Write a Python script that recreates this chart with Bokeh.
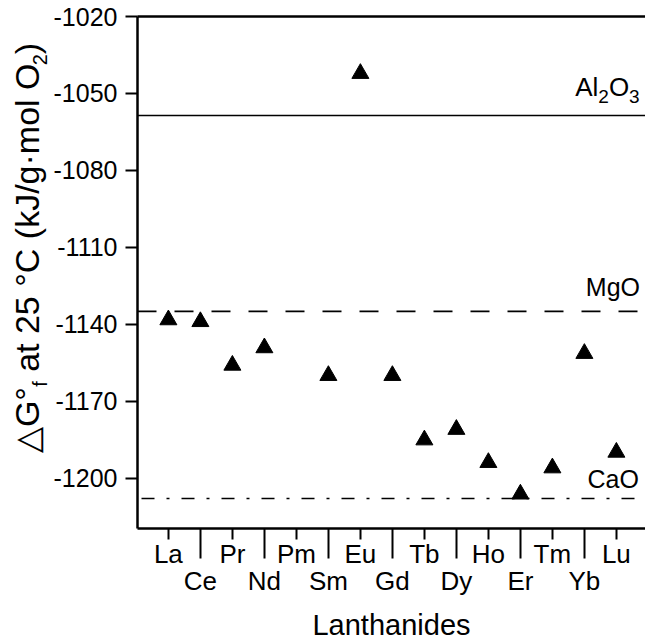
import math
from bokeh.plotting import figure
from bokeh.layouts import row
from bokeh.models import Range1d, LinearAxis, FixedTicker, Span, Label
from bokeh.embed import file_html
from bokeh.resources import INLINE

# ---------------- data ----------------
elements = ["La", "Ce", "Pr", "Nd", "Pm", "Sm", "Eu", "Gd", "Tb", "Dy", "Ho", "Er", "Tm", "Yb", "Lu"]
dG = [-1138.2, -1138.9, -1155.9, -1149.1, None, -1159.9, -1042.2, -1159.9,
      -1185.0, -1180.9, -1193.8, -1206.1, -1195.9, -1151.3, -1189.8]
ref_oxides = ["Al2O3", "MgO", "CaO"]
ref_values = [-1058.6, -1134.9, -1207.8]
y_ticks = [-1020, -1050, -1080, -1110, -1140, -1170, -1200]

# ---------------- styles ----------------
ref_dash = ["solid", "19 18", "13 12 3 12"]
ref_dash_offset = [0, 0, 36]
FONT = "Liberation Sans"
LEFT_W = 50
TOP, BOTTOM = 16, 116          # frame borders shared by both panels
BASE_FIX = 0.4                 # renderer anchor correction (em)

# Arial / Liberation Sans advance widths (em)
W = {'A': .667, 'l': .222, 'O': .778, 'M': .833, 'g': .556, 'C': .722, 'a': .556,
     '2': .556, '3': .556, 'G': .778, '°': .4, 'f': .278, ' ': .278, 't': .278,
     '5': .556, '(': .333, 'k': .5, 'J': .5, '/': .278, '·': .278, 'm': .833,
     'o': .556, ')': .333, '△': .77}


def text_width(txt, fs):
    return sum(W.get(c, 0.556) for c in txt) * fs


def rich(p, pieces, sx, sy, size, sub_size, sub_shift, angle=0.0):
    """sx, sy: frame-relative screen position of the main baseline start."""
    pos = 0.0
    for txt, sub in pieces:
        fs = sub_size if sub else size
        lead = len(txt) - len(txt.lstrip(' '))
        pos += lead * W[' '] * fs
        t = txt.lstrip(' ')
        shift = sub_shift if sub else 0
        fix = BASE_FIX * fs
        if angle == 0:
            x, y = sx + pos, sy - shift + fix
        else:
            x, y = sx + shift - fix, sy + pos
        p.add_layout(Label(x=x, y=y, x_units="screen", y_units="screen", text=t,
                           angle=angle, text_font=FONT, text_font_size=f"{fs}px",
                           text_align="left", text_baseline="alphabetic",
                           text_color="black"))
        pos += text_width(t, fs)
    return pos


# ---------- left strip carrying the rotated y-axis title ----------
pl = figure(width=LEFT_W, height=644, x_range=Range1d(0, LEFT_W), y_range=Range1d(0, 1),
            x_axis_type=None, y_axis_type=None, output_backend="svg", toolbar_location=None,
            min_border_left=0, min_border_right=0, min_border_top=TOP, min_border_bottom=BOTTOM)
pl.outline_line_color = None
pl.background_fill_color = "white"
pl.border_fill_color = "white"

S, SS = 34, 20
ylab = [("△G°", False), ("f", True), (" at 25 °C (kJ/g·mol O", False), ("2", True), (")", False)]
total = sum(text_width(t, SS if sub else S) for t, sub in ylab)
frame_bottom = 644 - BOTTOM
start = (frame_bottom - 247.5) - total / 2
rich(pl, ylab, 40.5, start, S, SS, 7, angle=math.pi / 2)

# ---------- main plot ----------
p = figure(width=645 - LEFT_W, height=644,
           x_range=Range1d(0.035, 15.91), y_range=Range1d(-1219.5, -1020),
           x_axis_type=None, y_axis_type=None,
           output_backend="svg", toolbar_location=None,
           min_border_left=135 - LEFT_W, min_border_right=0, min_border_top=TOP,
           min_border_bottom=BOTTOM)
p.outline_line_color = None
p.background_fill_color = "white"
p.border_fill_color = "white"

yax = LinearAxis(ticker=FixedTicker(ticks=y_ticks),
                 major_label_overrides={v: str(v) for v in y_ticks},
                 axis_line_width=2.5, major_tick_line_width=2,
                 major_tick_out=12, major_tick_in=0, minor_tick_out=0, minor_tick_in=0,
                 major_label_standoff=8, major_label_text_font=FONT,
                 major_label_text_font_size="25px", major_label_text_color="black")
p.add_layout(yax, "left")

odd = list(range(1, 16, 2))
even = list(range(2, 15, 2))
ax1 = LinearAxis(ticker=FixedTicker(ticks=odd, minor_ticks=even),
                 major_label_overrides={i: elements[i - 1] for i in odd},
                 axis_line_width=2.5, major_tick_line_width=2, minor_tick_line_width=2,
                 major_tick_out=11, major_tick_in=0, minor_tick_out=30, minor_tick_in=0,
                 major_label_standoff=-20, major_label_text_font=FONT,
                 major_label_text_font_size="26px", major_label_text_color="black")
p.add_layout(ax1, "below")
ax2 = LinearAxis(ticker=FixedTicker(ticks=even),
                 major_label_overrides={i: elements[i - 1] for i in even},
                 axis_line_color=None, major_tick_line_color=None, minor_tick_line_color=None,
                 major_tick_out=0, major_tick_in=0, minor_tick_out=0, minor_tick_in=0,
                 major_label_standoff=-6, major_label_text_font=FONT,
                 major_label_text_font_size="26px", major_label_text_color="black",
                 axis_label="Lanthanides", axis_label_standoff=10,
                 axis_label_text_font=FONT, axis_label_text_font_size="29px",
                 axis_label_text_line_height=0.6,
                 axis_label_text_font_style="normal", axis_label_text_color="black")
p.add_layout(ax2, "below")

axt = LinearAxis(ticker=FixedTicker(ticks=[]), axis_line_width=2.5,
                 major_tick_out=0, major_tick_in=0, minor_tick_out=0, minor_tick_in=0,
                 major_label_standoff=0, major_label_text_font_size="0px")
p.add_layout(axt, "above")

for v, d, off in zip(ref_values, ref_dash, ref_dash_offset):
    p.add_layout(Span(location=v, dimension="width", line_color="black",
                      line_width=1.6, line_dash=d, line_dash_offset=off))

xs = [i + 1 for i, v in enumerate(dG) if v is not None]
ys = [v for v in dG if v is not None]
p.scatter(xs, ys, marker="triangle", size=17, fill_color="black",
          line_color="black", line_width=1)

# reference-line labels (frame-relative screen coords of baseline starts)
rich(p, [("Al", False), ("2", True), ("O", False), ("3", True)], 437.7, 431.3, 26, 19, 6.6)
rich(p, [("MgO", False)], 448.3, 232, 25, 18, 0)
rich(p, [("CaO", False)], 450, 39.7, 25, 18, 0)

layout = row(pl, p, spacing=0)
open("out.html", "w").write(file_html(layout, INLINE))
